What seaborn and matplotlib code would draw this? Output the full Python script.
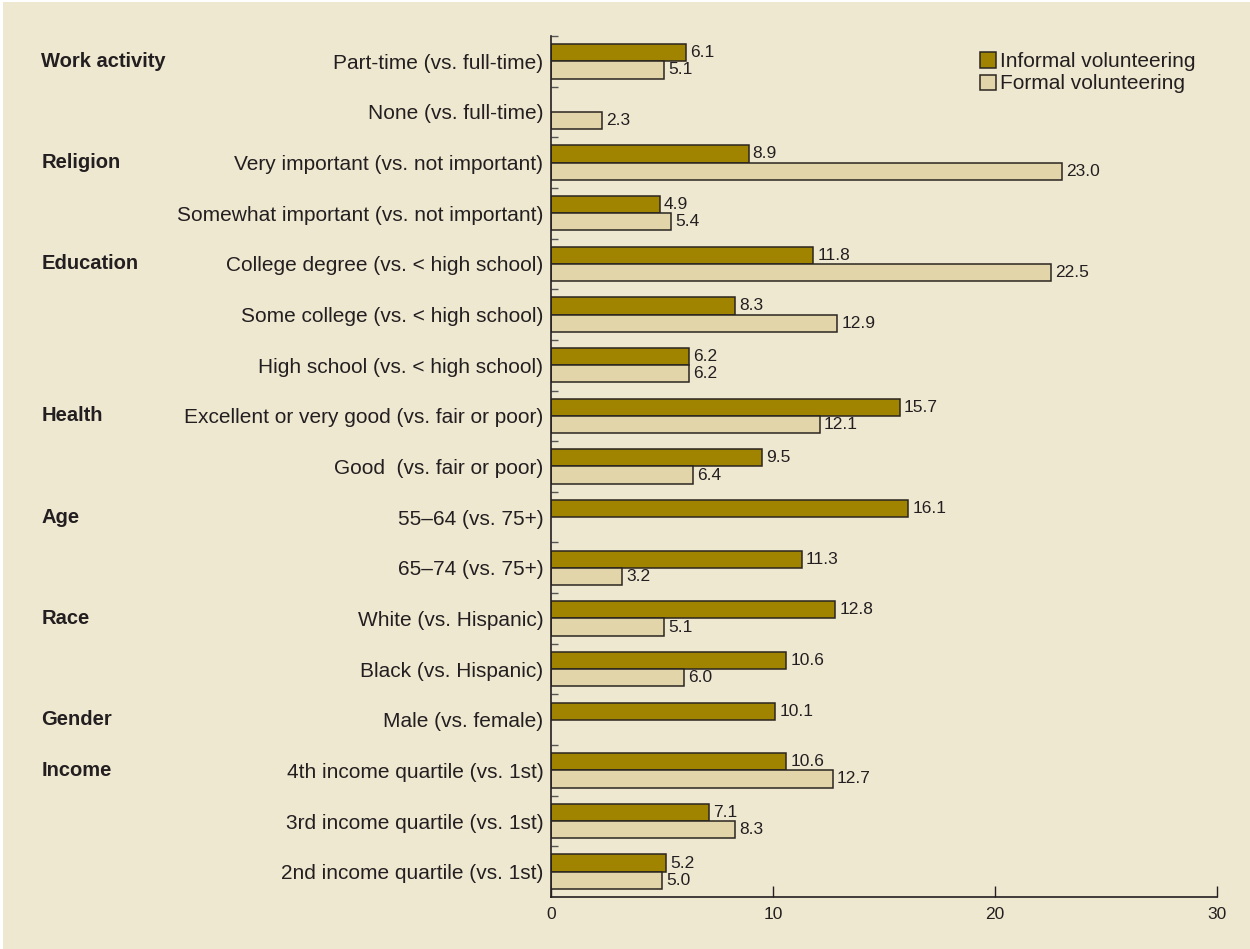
import numpy as np
import pandas as pd
import matplotlib
matplotlib.use("Agg")
import matplotlib.pyplot as plt
import matplotlib.transforms as mtransforms
import seaborn as sns
from matplotlib.patches import Rectangle

# Data
categories = [
    "Part-time (vs. full-time)",
    "None (vs. full-time)",
    "Very important (vs. not important)",
    "Somewhat important (vs. not important)",
    "College degree (vs. < high school)",
    "Some college (vs. < high school)",
    "High school (vs. < high school)",
    "Excellent or very good (vs. fair or poor)",
    "Good  (vs. fair or poor)",
    "55\u201364 (vs. 75+)",
    "65\u201374 (vs. 75+)",
    "White (vs. Hispanic)",
    "Black (vs. Hispanic)",
    "Male (vs. female)",
    "4th income quartile (vs. 1st)",
    "3rd income quartile (vs. 1st)",
    "2nd income quartile (vs. 1st)",
]
informal = [6.1, np.nan, 8.9, 4.9, 11.8, 8.3, 6.2, 15.7, 9.5, 16.1, 11.3, 12.8, 10.6, 10.1, 10.6, 7.1, 5.2]
formal = [5.1, 2.3, 23.0, 5.4, 22.5, 12.9, 6.2, 12.1, 6.4, np.nan, 3.2, 5.1, 6.0, np.nan, 12.7, 8.3, 5.0]
series = ["Informal volunteering", "Formal volunteering"]
x_ticks = [0, 10, 20, 30]

groups = {
    "Work activity": "Part-time (vs. full-time)",
    "Religion": "Very important (vs. not important)",
    "Education": "College degree (vs. < high school)",
    "Health": "Excellent or very good (vs. fair or poor)",
    "Age": "55\u201364 (vs. 75+)",
    "Race": "White (vs. Hispanic)",
    "Gender": "Male (vs. female)",
    "Income": "4th income quartile (vs. 1st)",
}

BG = "#efe8d1"
DARK = "#a08400"
LIGHT = "#e2d5aa"
TXT = "#231f20"

sns.set_style("white")
plt.rcParams["font.family"] = ["Liberation Sans", "DejaVu Sans"]

df = pd.DataFrame({
    "category": categories * 2,
    "series": [series[0]] * len(categories) + [series[1]] * len(categories),
    "value": informal + formal,
}).dropna()

fig = plt.figure(figsize=(12.5, 9.49), dpi=100)
fig.patch.set_facecolor("white")
fig.patches.append(Rectangle((0.002, 0.0), 0.998, 0.998, transform=fig.transFigure,
                             facecolor=BG, edgecolor="none", zorder=-10))
ax = fig.add_axes([0.4408, 0.0548, 0.5328, 0.9073])
ax.set_facecolor("none")

sns.barplot(data=df, x="value", y="category", hue="series", order=categories,
            hue_order=series, palette=[DARK, LIGHT], orient="h", width=0.68,
            edgecolor="#2a2520", linewidth=1.1, saturation=1, ax=ax)

for cont in ax.containers:
    ax.bar_label(cont, fmt="%.1f", padding=3, fontsize=12.5, color=TXT)

ax.set_xlim(0, 30)
ax.set_ylim(len(categories) - 0.5, -0.5)
ax.set_xticks(x_ticks)
ax.set_xlabel("")
ax.set_ylabel("")
ax.tick_params(axis="x", bottom=True, direction="in", length=8, width=1, color=TXT,
               labelsize=12.5, labelcolor=TXT, pad=7)
ax.tick_params(axis="y", which="major", left=True, length=0, labelsize=15,
               labelcolor=TXT, pad=5.5)
ax.set_yticks(np.arange(-0.5, len(categories) - 0.5, 1.0), minor=True)
ax.tick_params(axis="y", which="minor", left=True, direction="in", length=5,
               width=1, color="#555555")
for side in ["top", "right"]:
    ax.spines[side].set_visible(False)
for side in ["left", "bottom"]:
    ax.spines[side].set_color(TXT)
    ax.spines[side].set_linewidth(1.2)

# Group headings on the far left
trans = mtransforms.blended_transform_factory(fig.transFigure, ax.transData)
for name, cat in groups.items():
    ax.text(0.033, categories.index(cat), name, transform=trans, fontsize=14.5,
            fontweight="bold", color=TXT, ha="left", va="center")

leg = ax.legend(loc="upper right", bbox_to_anchor=(0.99, 0.998), frameon=False,
                fontsize=15, handlelength=0.75, handleheight=0.75, handletextpad=0.2,
                labelspacing=0.15, borderaxespad=0.3)
for t in leg.get_texts():
    t.set_color(TXT)

fig.savefig("out.png", dpi=100, facecolor=fig.get_facecolor())
